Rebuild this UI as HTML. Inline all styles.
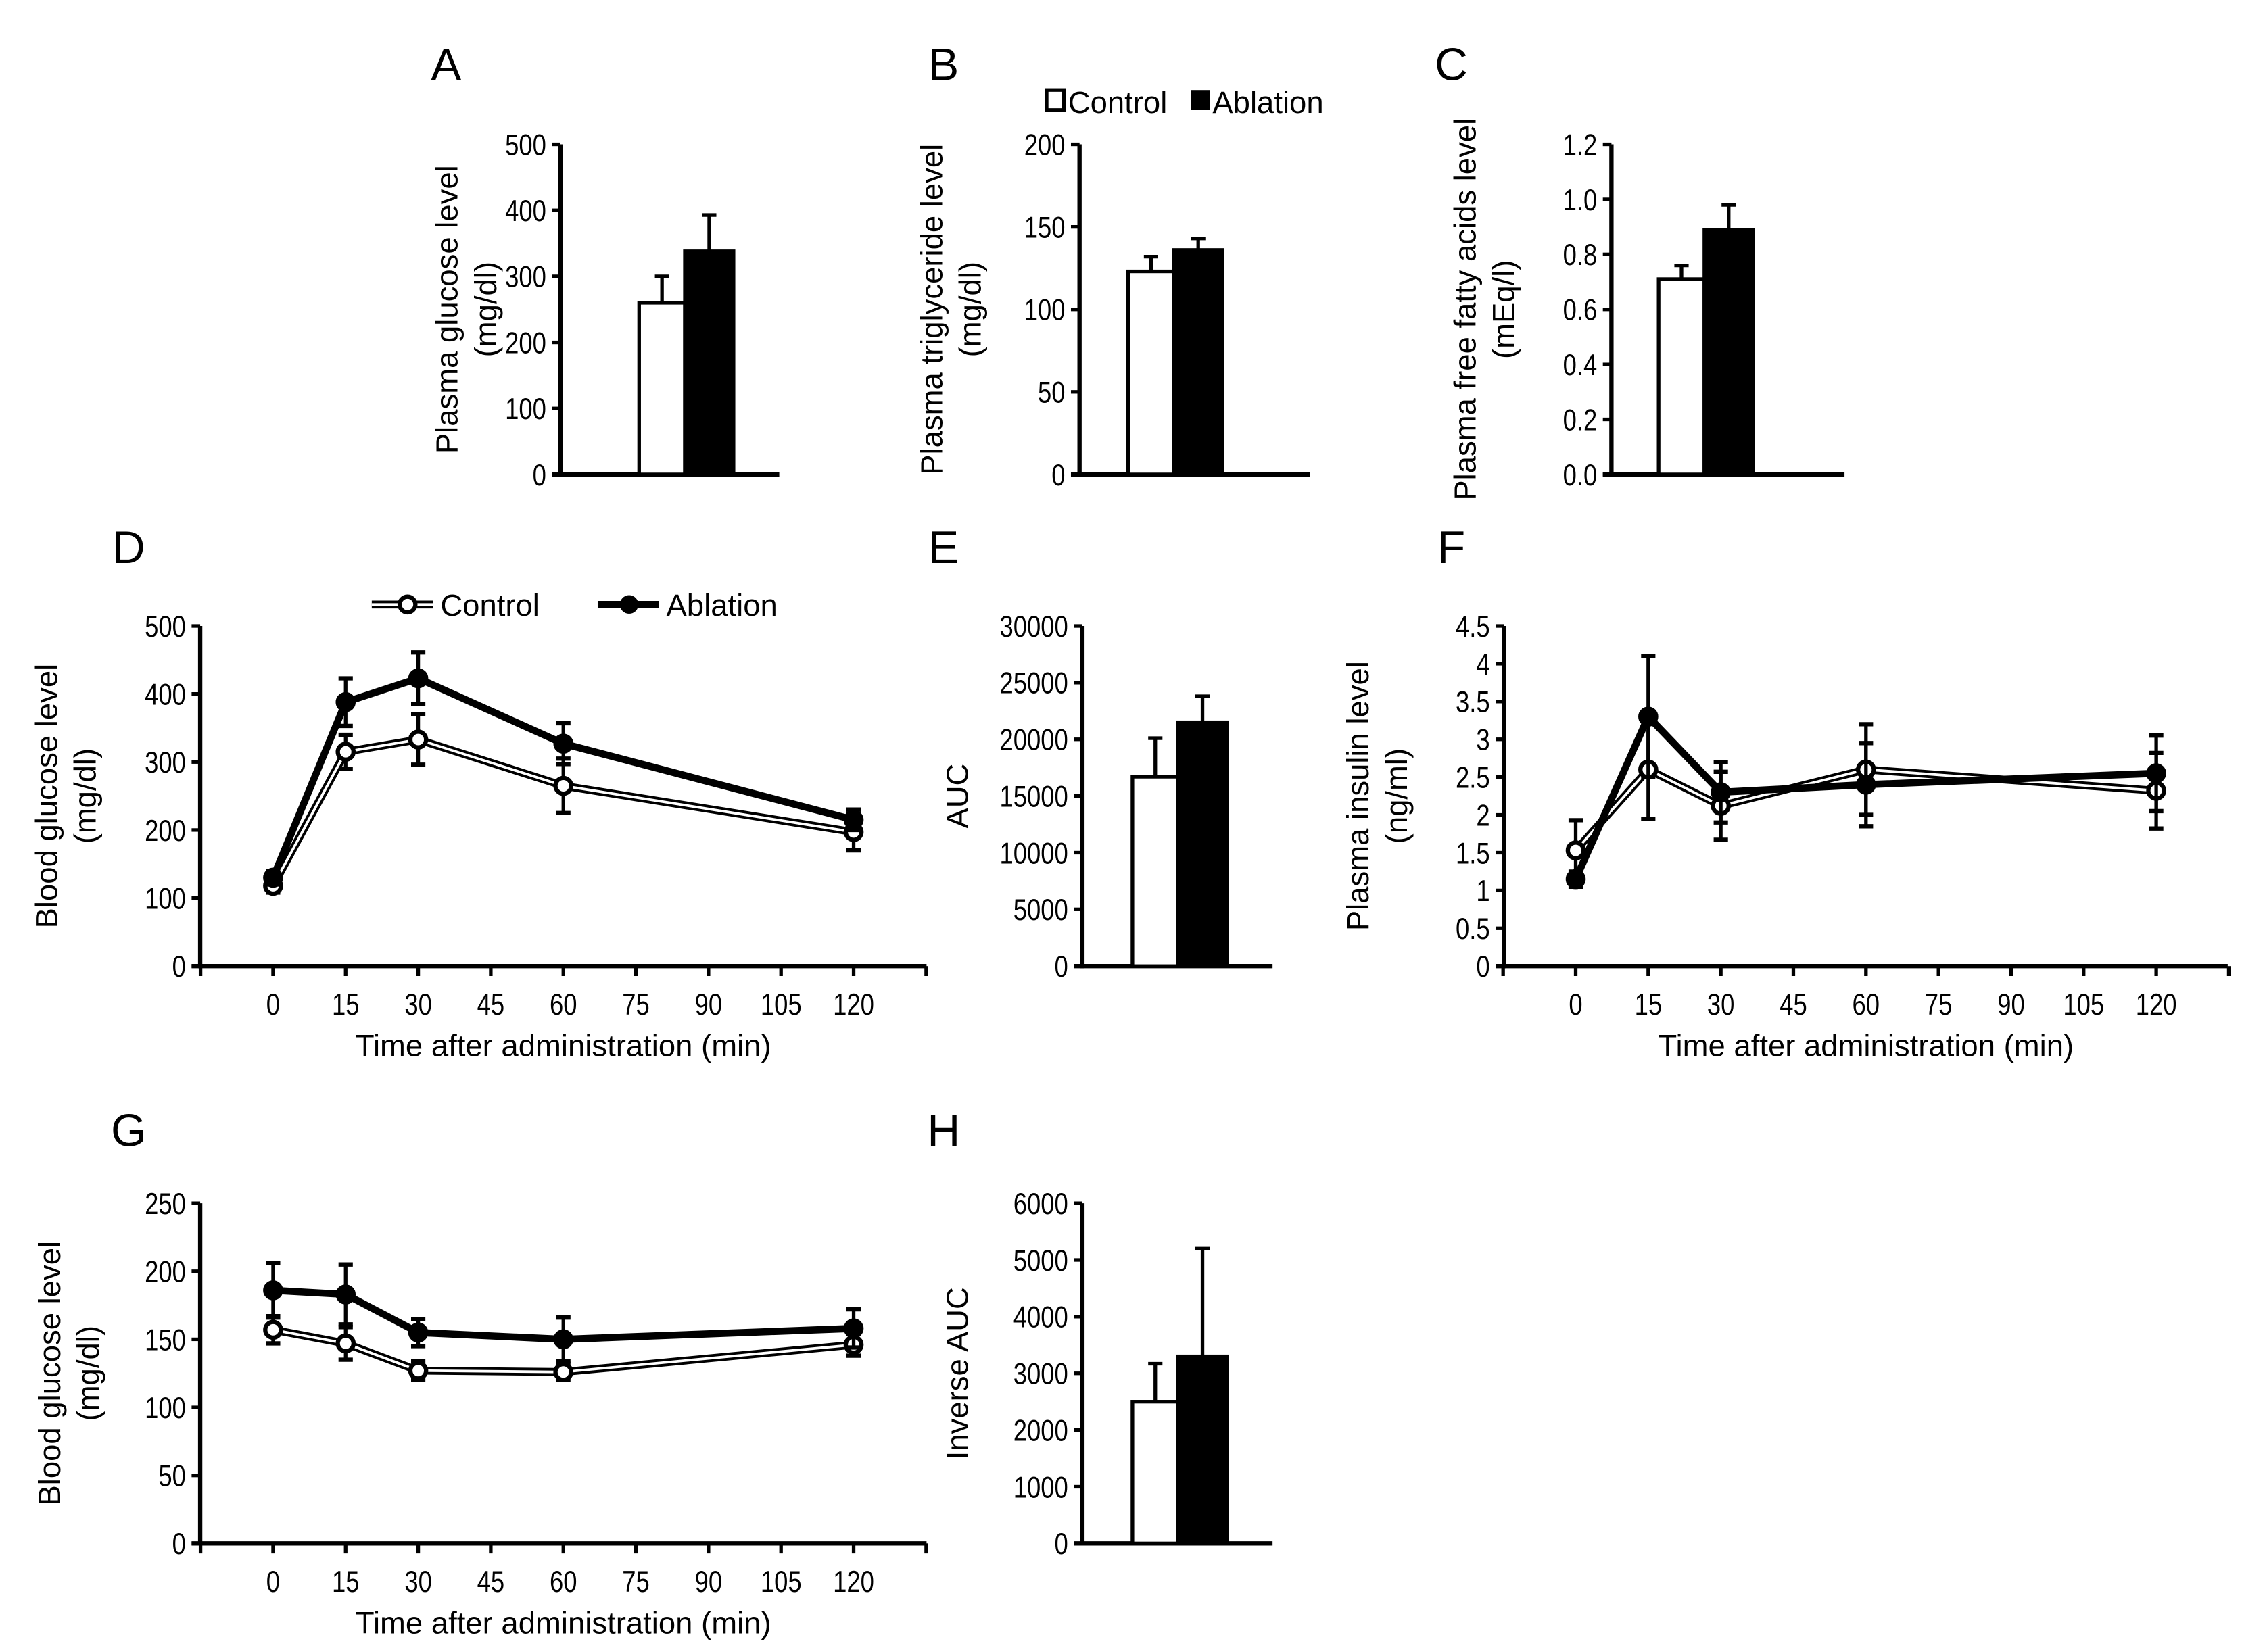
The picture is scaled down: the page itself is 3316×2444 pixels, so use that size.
<!DOCTYPE html>
<html><head><meta charset="utf-8"><style>
html,body{margin:0;padding:0;background:#fff}
svg{display:block}
text{font-family:"Liberation Sans",Arial,sans-serif;fill:#000}
</style></head><body>
<svg id="fig" xmlns="http://www.w3.org/2000/svg" width="3316" height="2444" viewBox="0 0 1568 1156" preserveAspectRatio="none"></svg>
<script>
// ---- data ----
const barGroups = ["Control","Ablation"];
const aValues = [260, 338];      const aErr = [40, 55];
const bValues = [123, 136];      const bErr = [9, 7];
const cValues = [0.71, 0.89];    const cErr = [0.05, 0.09];
const eValues = [16700, 21500];  const eErr = [3400, 2300];
const hValues = [2500, 3300];    const hErr = [670, 1900];
const aTicks = [0,100,200,300,400,500];
const bTicks = [0,50,100,150,200];
const cTicks = ["0.0","0.2","0.4","0.6","0.8","1.0","1.2"];
const eTicks = [0,5000,10000,15000,20000,25000,30000];
const hTicks = [0,1000,2000,3000,4000,5000,6000];
const timePoints = [0,15,30,60,120];
const timeTicks = [0,15,30,45,60,75,90,105,120];
const dControl = [118,315,333,265,197];  const dControlErr = [10,25,37,40,27];
const dAblation = [130,388,423,327,215]; const dAblationErr = [10,35,38,30,15];
const dTicks = [0,100,200,300,400,500];
const fControl = [1.53,2.6,2.12,2.6,2.32]; const fControlErr = [0.4,0.65,0.45,0.6,0.5];
const fAblation = [1.15,3.3,2.3,2.4,2.55]; const fAblationErr = [0.1,0.8,0.4,0.55,0.5];
const fTicks = ["0","0.5","1","1.5","2","2.5","3","3.5","4","4.5"];
const gControl = [157,147,127,126,146];  const gControlErr = [10,12,7,6,8];
const gAblation = [186,183,155,150,158]; const gAblationErr = [20,22,10,16,14];
const gTicks = [0,50,100,150,200,250];

const TICK=21, TITLE=21.5, LET=32, SQ=0.82;
const NS="http://www.w3.org/2000/svg";
const svg=document.getElementById('fig');
function mk(tag,attrs,parent){const e=document.createElementNS(NS,tag);for(const k in attrs)e.setAttribute(k,attrs[k]);(parent||svg).appendChild(e);return e;}
function txt(s,x,y,size,anchor,parent,rot){const t=mk('text',{x:x,y:y,'font-size':size,'text-anchor':anchor||'middle'},parent);if(rot)t.setAttribute('transform','rotate(-90 '+x+' '+y+')');t.textContent=s;return t;}
function tickTxt(s,x,y,anchor,parent){const t=mk('text',{x:0,y:0,'font-size':TICK,'text-anchor':anchor,transform:'translate('+x+' '+y+') scale('+SQ+' 1)'},parent);t.textContent=s;return t;}

function yAxis(g,ax,top,bot,ticks,max,xEnd){
  mk('line',{x1:ax,y1:top,x2:ax,y2:bot+1.5,stroke:'#000','stroke-width':3},g);
  mk('line',{x1:ax-6,y1:bot,x2:xEnd,y2:bot,stroke:'#000','stroke-width':3},g);
  ticks.forEach(t=>{const v=parseFloat(t);const y=bot-(v/max)*(bot-top);
    mk('line',{x1:ax-6,y1:y,x2:ax,y2:y,stroke:'#000','stroke-width':2.5},g);
    const l=tickTxt(String(t),ax-10,y+7.5,'end',g);
    });
}
function barPanel(name,letter,lx,ly,ax,x0,top,bot,xEnd,ticks,max,vals,errs,titles,tx){
  const g=mk('g',{});
  
  const L=txt(letter,lx,ly,LET,'middle',g);
  yAxis(g,ax,top,bot,ticks,max,xEnd);
  const ys=v=>bot-(v/max)*(bot-top);
  const w=[32,34];let x=x0;
  vals.forEach((v,i)=>{
    const y=ys(v);const xc=x+w[i]/2;
    const ey=ys(v+errs[i]);
    const el=mk('line',{x1:xc,y1:y,x2:xc,y2:ey,stroke:'#000','stroke-width':2.5},g);
    
    mk('line',{x1:xc-5,y1:ey,x2:xc+5,y2:ey,stroke:'#000','stroke-width':2.5},g);
    const r=mk('rect',{x:x,y:y,width:w[i],height:bot-y,fill:i?'#000':'#fff',stroke:'#000','stroke-width':2.5},g);
    
    x+=w[i];});
  titles.forEach((s,i)=>{const t=txt(s,tx+i*27,(top+bot)/2,TITLE,'middle',g,true);
    });
  return g;
}
function linePanel(name,letter,lx,ly,ax,top,bot,xEnd,ticks,max,x0px,x120px,cV,cE,aV,aE,titles,tx){
  const g=mk('g',{});
  
  const L=txt(letter,lx,ly,LET,'middle',g);
  yAxis(g,ax,top,bot,ticks,max,xEnd);
  const xs=t=>x0px+(t/120)*(x120px-x0px);
  const ys=v=>bot-(v/max)*(bot-top);
  [-15].concat(timeTicks,[135]).forEach(t=>{mk('line',{x1:xs(t),y1:bot,x2:xs(t),y2:bot+7,stroke:'#000','stroke-width':2.5},g);});
  timeTicks.forEach(t=>{const l=tickTxt(String(t),xs(t),bot+34,'middle',g);});
  const xt=txt('Time after administration (min)',(xs(0)+xs(120))/2,bot+63,TITLE,'middle',g);
  
  function series(vals,errs,filled){
    errs.forEach((e,i)=>{const x=xs(timePoints[i]);
      const eb=mk('line',{x1:x,y1:ys(vals[i]-e),x2:x,y2:ys(vals[i]+e),stroke:'#000','stroke-width':2.5},g);
      
      [vals[i]-e,vals[i]+e].forEach(v=>mk('line',{x1:x-5,y1:ys(v),x2:x+5,y2:ys(v),stroke:'#000','stroke-width':3},g));});
    const pts=vals.map((v,i)=>xs(timePoints[i])+','+ys(v)).join(' ');
    const pl=mk('polyline',{points:pts,fill:'none',stroke:'#000','stroke-width':filled?5:5.5,'stroke-linejoin':'round'},g);
    
    if(!filled)mk('polyline',{points:pts,fill:'none',stroke:'#fff','stroke-width':1.8},g);
    vals.forEach((v,i)=>{const c=mk('circle',{cx:xs(timePoints[i]),cy:ys(v),r:filled?6.5:5.5,fill:filled?'#000':'#fff',stroke:'#000','stroke-width':filled?1:3},g);
      });
  }
  series(cV,cE,false);series(aV,aE,true);
  titles.forEach((s,i)=>{const t=txt(s,tx+i*27,(top+bot)/2,TITLE,'middle',g,true);
    });
}

barPanel('panel-a','A',312,56,392,447,101,332,545,aTicks,500,aValues,aErr,['Plasma glucose level','(mg/dl)'],320);
barPanel('panel-b','B',660,56,755,789,101,332,916,bTicks,200,bValues,bErr,['Plasma triglyceride level','(mg/dl)'],659);
barPanel('panel-c','C',1015,56,1127,1160,101,332,1290,cTicks,1.2,cValues,cErr,['Plasma free fatty acids level','(mEq/l)'],1032);
barPanel('panel-e','E',660,394,757,792,438,676,890,eTicks,30000,eValues,eErr,['AUC'],677);
barPanel('panel-h','H',660,802,757,792,842,1080,890,hTicks,6000,hValues,hErr,['Inverse AUC'],677);
linePanel('panel-d','D',90,394,140,438,676,648,dTicks,500,191,597,dControl,dControlErr,dAblation,dAblationErr,['Blood glucose level','(mg/dl)'],40);
linePanel('panel-f','F',1015,394,1052,438,676,1558,fTicks,4.5,1102,1508,fControl,fControlErr,fAblation,fAblationErr,['Plasma insulin level','(ng/ml)'],957);
linePanel('panel-g','G',90,802,140,842,1080,648,gTicks,250,191,597,gControl,gControlErr,gAblation,gAblationErr,['Blood glucose level','(mg/dl)'],42);

// legend B
const lb=mk('g',{});
mk('rect',{x:732,y:63,width:12,height:14,fill:'#fff',stroke:'#000','stroke-width':2.5},lb);
txt('Control',747,79,TITLE,'start',lb);
mk('rect',{x:833,y:63,width:13,height:14,fill:'#000'},lb);
txt('Ablation',848,79,TITLE,'start',lb);
// legend D
const ld=mk('g',{});
mk('line',{x1:260,y1:423,x2:303,y2:423,stroke:'#000','stroke-width':5.5},ld);
mk('line',{x1:260,y1:423,x2:303,y2:423,stroke:'#fff','stroke-width':1.8},ld);
mk('circle',{cx:285,cy:423,r:5.5,fill:'#fff',stroke:'#000','stroke-width':3},ld);
txt('Control',308,431,TITLE,'start',ld);
mk('line',{x1:418,y1:423,x2:461,y2:423,stroke:'#000','stroke-width':5},ld);
mk('circle',{cx:440,cy:423,r:6.5,fill:'#000'},ld);
txt('Ablation',466,431,TITLE,'start',ld);
</script>
</body></html>
